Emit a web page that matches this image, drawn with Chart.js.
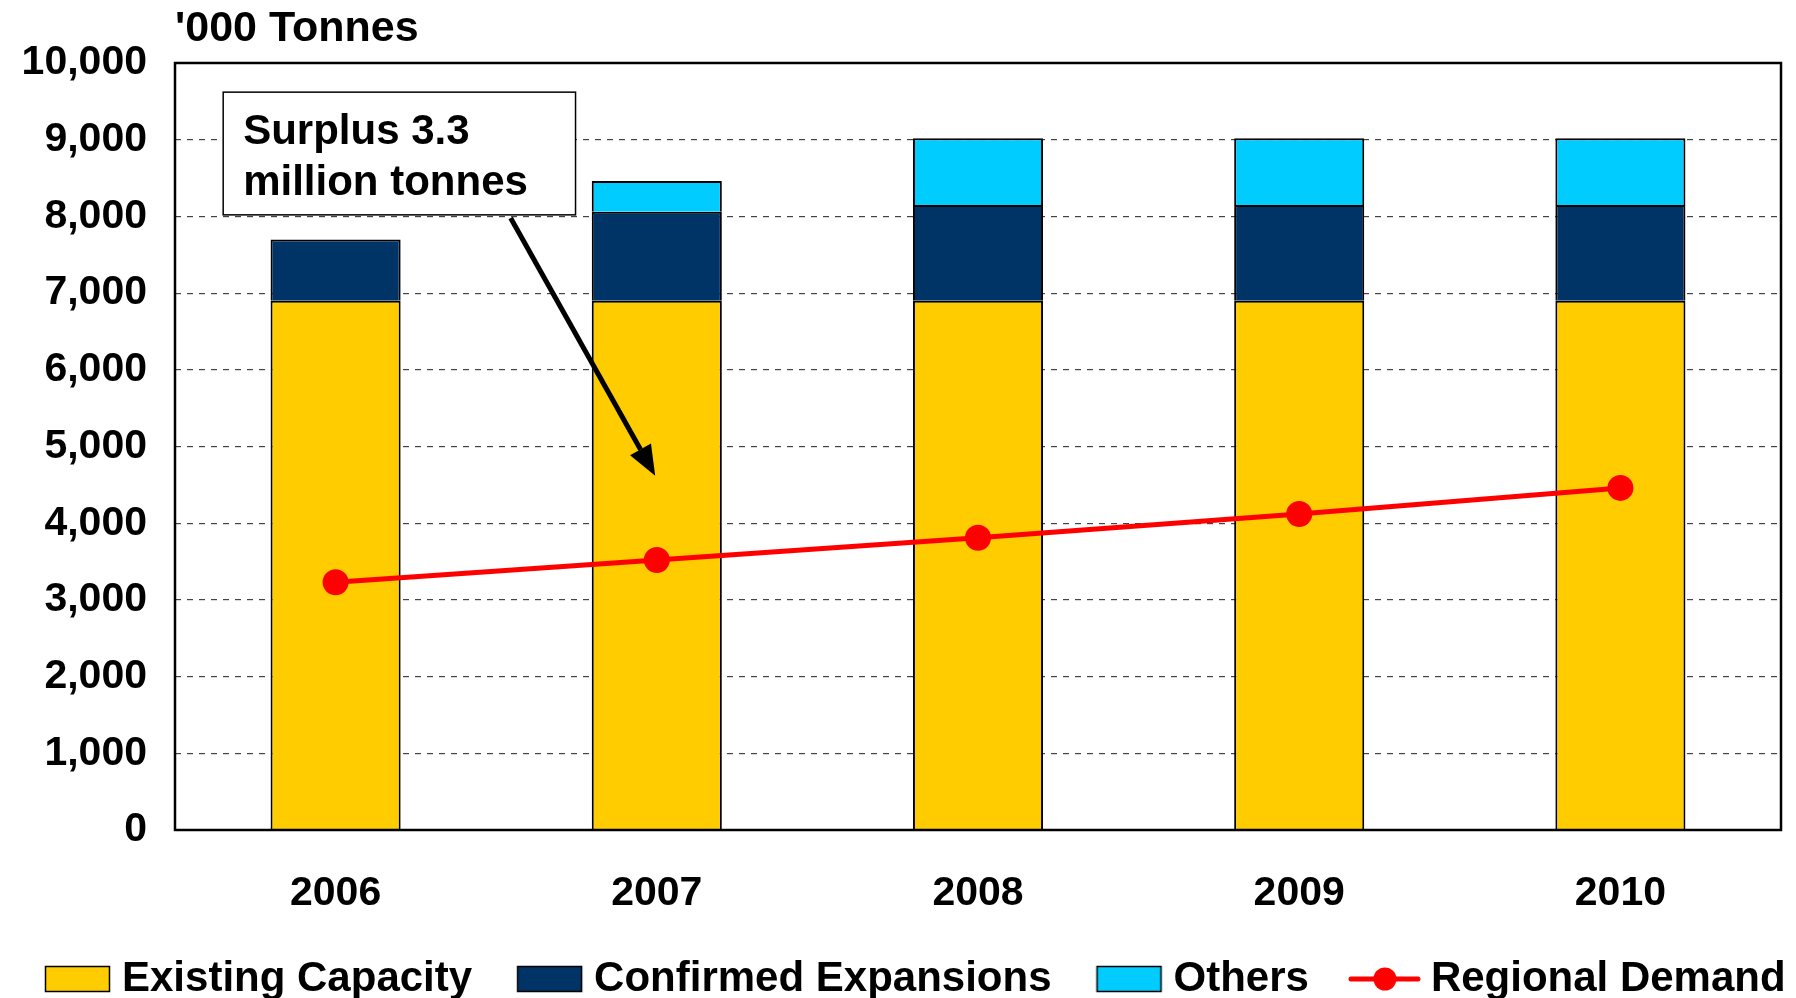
<!DOCTYPE html>
<html>
<head>
<meta charset="utf-8">
<script src="https://cdn.jsdelivr.net/npm/chart.js@4.4.1/dist/chart.umd.min.js"></script>
<style>
  html, body { margin: 0; padding: 0; background: #fff; }
</style>
</head>
<body>
<canvas id="grafica" width="1796" height="998"></canvas>
<script>
// datos
const anios = ["2006", "2007", "2008", "2009", "2010"];
const existente = [6900, 6900, 6900, 6900, 6900];
const expansiones = [800, 1160, 1250, 1250, 1250];
const otros = [0, 400, 870, 870, 870];
const demanda = [3230, 3520, 3810, 4120, 4460];
const ticksY = [0, 1000, 2000, 3000, 4000, 5000, 6000, 7000, 8000, 9000, 10000];
const unidad = "'000 Tonnes";
const notaTexto = ["Surplus 3.3", "million tonnes"];

// caja y flecha de la nota, en coordenadas de los ejes (indice de categoria, valor)
const notaCaja = { x0: -0.35, x1: 0.747, y0: 9620, y1: 8020 };
const notaFlecha = { x0: 0.545, y0: 7980, x1: 0.995, y1: 4620 };

const fuente = "'Liberation Sans', Arial, sans-serif";
const W = 100; // ancho de cada icono de leyenda

function iconoCaja(color) {
    const c = document.createElement("canvas");
    c.width = W + 24;
    c.height = 30;
    const g = c.getContext("2d");
    g.fillStyle = color;
    g.fillRect(W - 43.5, 2.5, 64, 25);
    g.strokeStyle = "#000";
    g.lineWidth = 1.5;
    g.strokeRect(W - 43.5, 2.5, 64, 25);
    return c;
}

function iconoLinea(color) {
    const c = document.createElement("canvas");
    c.width = W + 24;
    c.height = 30;
    const g = c.getContext("2d");
    g.strokeStyle = color;
    g.lineWidth = 5;
    g.lineCap = "round";
    g.beginPath();
    g.moveTo(W - 47, 15);
    g.lineTo(W + 20, 15);
    g.stroke();
    g.fillStyle = color;
    g.beginPath();
    g.arc(W - 13, 15, 11.5, 0, Math.PI * 2);
    g.fill();
    return c;
}

const pluginNota = {
    id: "nota",
    afterDatasetsDraw(chart) {
        const ctx = chart.ctx;
        const x = chart.scales.x;
        const y = chart.scales.y;
        const a = chart.chartArea;

        // marco del area
        ctx.save();
        ctx.strokeStyle = "#000";
        ctx.lineWidth = 2.5;
        ctx.strokeRect(a.left, a.top, a.right - a.left, a.bottom - a.top);

        // unidad arriba a la izquierda
        ctx.fillStyle = "#000";
        ctx.font = "bold 43px " + fuente;
        ctx.textBaseline = "middle";
        ctx.textAlign = "left";
        ctx.fillText(unidad, a.left, 29);

        // flecha
        const fx0 = x.getPixelForValue(notaFlecha.x0), fy0 = y.getPixelForValue(notaFlecha.y0);
        const fx1 = x.getPixelForValue(notaFlecha.x1), fy1 = y.getPixelForValue(notaFlecha.y1);
        const ang = Math.atan2(fy1 - fy0, fx1 - fx0);
        const largo = 30, medio = 12;
        const bx = fx1 - largo * Math.cos(ang), by = fy1 - largo * Math.sin(ang);
        ctx.strokeStyle = "#000";
        ctx.lineWidth = 5;
        ctx.beginPath();
        ctx.moveTo(fx0, fy0);
        ctx.lineTo(bx, by);
        ctx.stroke();
        ctx.beginPath();
        ctx.moveTo(fx1, fy1);
        ctx.lineTo(bx + medio * Math.sin(ang), by - medio * Math.cos(ang));
        ctx.lineTo(bx - medio * Math.sin(ang), by + medio * Math.cos(ang));
        ctx.closePath();
        ctx.fill();

        // caja de texto
        const cx0 = x.getPixelForValue(notaCaja.x0), cx1 = x.getPixelForValue(notaCaja.x1);
        const cy0 = y.getPixelForValue(notaCaja.y0), cy1 = y.getPixelForValue(notaCaja.y1);
        ctx.fillStyle = "#fff";
        ctx.fillRect(cx0, cy0, cx1 - cx0, cy1 - cy0);
        ctx.lineWidth = 1.5;
        ctx.strokeRect(cx0, cy0, cx1 - cx0, cy1 - cy0);
        ctx.fillStyle = "#000";
        ctx.font = "bold 42px " + fuente;
        ctx.fillText(notaTexto[0], cx0 + 20, cy0 + 40);
        ctx.fillText(notaTexto[1], cx0 + 20, cy0 + 91);
        ctx.restore();
    }
};

const grafica = document.getElementById("grafica").getContext("2d");

const myChart = new Chart(grafica, {
    data: {
        labels: anios,
        datasets: [
            {
                type: "line",
                label: "Regional Demand",
                data: demanda,
                borderColor: "#ff0000",
                backgroundColor: "#ff0000",
                borderWidth: 5,
                pointRadius: 13,
                pointHoverRadius: 13,
                pointBackgroundColor: "#ff0000",
                pointBorderWidth: 0,
                tension: 0,
                stack: "demanda",
                order: 0
            },
            {
                type: "bar",
                label: "Existing Capacity",
                data: existente,
                backgroundColor: "#ffcc00",
                borderColor: "#000",
                borderWidth: 2,
                stack: "capacidad",
                order: 1
            },
            {
                type: "bar",
                label: "Confirmed Expansions",
                data: expansiones,
                backgroundColor: "#003366",
                borderColor: "#000",
                borderWidth: 2,
                stack: "capacidad",
                order: 1
            },
            {
                type: "bar",
                label: "Others",
                data: otros,
                backgroundColor: "#00ccff",
                borderColor: "#000",
                borderWidth: 2,
                stack: "capacidad",
                order: 1
            }
        ]
    },
    options: {
        responsive: false,
        animation: false,
        devicePixelRatio: 1,
        barPercentage: 0.405,
        categoryPercentage: 1,
        layout: {
            padding: { top: 63, right: 0, bottom: -12, left: 0 }
        },
        scales: {
            x: {
                stacked: true,
                grid: { display: false, drawTicks: false },
                border: { display: false },
                ticks: {
                    color: "#000",
                    padding: 0,
                    font: { family: fuente, size: 41, weight: "bold", lineHeight: "127px" }
                }
            },
            y: {
                stacked: true,
                min: ticksY[0],
                max: ticksY[ticksY.length - 1],
                afterBuildTicks: (scale) => {
                    scale.ticks = ticksY.map(v => ({ value: v }));
                },
                afterFit: (scale) => {
                    scale.width = 175;
                },
                grid: {
                    drawTicks: false,
                    lineWidth: 1.2,
                    color: (c) => (c.tick && (c.tick.value === ticksY[0] || c.tick.value === ticksY[ticksY.length - 1])) ? "rgba(0,0,0,0)" : "#444"
                },
                border: { display: false, dash: [6, 6] },
                ticks: {
                    color: "#000",
                    padding: 28,
                    font: { family: fuente, size: 41, weight: "bold" },
                    callback: (v) => Number(v).toLocaleString("en-US")
                }
            },
            // eje vacio a la derecha, solo reserva el margen
            margen: {
                type: "linear",
                position: "right",
                display: true,
                grid: { display: false, drawTicks: false },
                border: { display: false },
                ticks: { display: false },
                afterFit: (scale) => {
                    scale.width = 15;
                }
            }
        },
        plugins: {
            tooltip: { enabled: false },
            legend: {
                position: "bottom",
                align: "start",
                labels: {
                    usePointStyle: true,
                    pointStyleWidth: W,
                    padding: 1,
                    color: "#000",
                    font: { family: fuente, size: 42, weight: "bold" },
                    generateLabels: (chart) => {
                        const orden = [1, 2, 3, 0];
                        return orden.map(i => {
                            const ds = chart.data.datasets[i];
                            return {
                                text: ds.label,
                                datasetIndex: i,
                                fillStyle: ds.backgroundColor,
                                strokeStyle: ds.borderColor,
                                lineWidth: 0,
                                hidden: false,
                                fontColor: "#000",
                                pointStyle: ds.type === "line" ? iconoLinea(ds.borderColor) : iconoCaja(ds.backgroundColor)
                            };
                        });
                    }
                }
            }
        }
    },
    plugins: [pluginNota]
});
</script>
</body>
</html>
